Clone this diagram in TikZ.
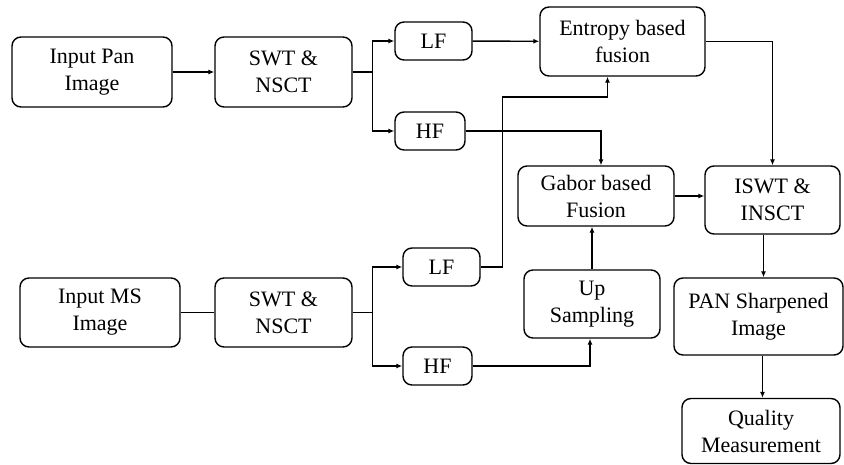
\documentclass[tikz,border=0pt]{standalone}
\usepackage{fontspec}
\setmainfont{Liberation Serif}
\newfontfamily\boxfont{Liberation Serif}
\usetikzlibrary{arrows.meta, positioning, calc}

\begin{document}
\begin{tikzpicture}[
        x=1pt, y=-1pt,
        line width=1.4pt,
        box/.style={rectangle, draw=black, rounded corners=9pt, align=center, inner sep=1pt, font=\boxfont\fontsize{22}{27}\selectfont},
        arr/.style={-{Latex[length=6pt, width=5pt]}}
    ]
        \useasboundingbox (0,0) rectangle (844,465);

        % upper (pan) path
        \node[box, minimum width=160, minimum height=70] (pan) at (92,72) {Input Pan\\Image};
        \node[box, minimum width=137, minimum height=70] (swta) at (283.5,72) {SWT \&\\NSCT};
        \node[box, minimum width=77, minimum height=38] (lfa) at (433.5,41) {LF};
        \node[box, minimum width=70, minimum height=38] (hfa) at (430,131) {HF};
        \node[box, minimum width=165, minimum height=69] (entropy) at (622.5,41.5) {Entropy based\\fusion};
        \node[box, minimum width=156, minimum height=60] (gabor) at (596,196) {Gabor based\\Fusion};
        \node[box, minimum width=135, minimum height=68] (iswt) at (772.5,200) {ISWT \&\\INSCT};

        % lower (ms) path
        \node[box, minimum width=160, minimum height=69] (ms) at (100,312.5) {Input MS\\Image};
        \node[box, minimum width=137, minimum height=69] (swtb) at (283.5,312.5) {SWT \&\\NSCT};
        \node[box, minimum width=77, minimum height=38] (lfb) at (441.5,267) {LF};
        \node[box, minimum width=69, minimum height=38] (hfb) at (437.5,366) {HF};
        \node[box, minimum width=136, minimum height=68] (upsamp) at (592,304) {Up\\Sampling};

        % output
        \node[box, minimum width=169, minimum height=77] (sharp) at (758.5,316.5) {PAN Sharpened\\Image};
        \node[box, minimum width=158, minimum height=65] (quality) at (761,431) {Quality\\Measurement};

        \draw[arr] (pan) -- (swta);
        \draw[arr] (swta.east) -- ++(20,0) |- (lfa.west);
        \draw[arr] (swta.east) -- ++(20,0) |- (hfa.west);
        \draw[arr] (lfa) -- (entropy);
        \draw[arr] (entropy.east) -| (iswt.north);
        \draw[arr] (hfa.east) -| ([xshift=5pt]gabor.north);
        \draw[arr] (gabor.east) -- (gabor.east -| iswt.west);

        \draw (ms) -- (swtb);
        \draw[arr] (swtb.east) -- ++(20,0) |- (lfb.west);
        \draw[arr] (swtb.east) -- ++(20,0) |- (hfb.west);
        \draw[arr] (lfb.east) -| ++(22,-170) -| ([xshift=-15pt]entropy.south);
        \draw[arr] (hfb.east) -| ([xshift=-2pt]upsamp.south);
        \draw[arr] (upsamp.north) -- (upsamp.north |- gabor.south);

        \draw[arr] ([xshift=-9pt]iswt.south) -- ([xshift=-9pt]iswt.south |- sharp.north);
        \draw[arr] ([xshift=4pt]sharp.south) -- ([xshift=4pt]sharp.south |- quality.north);
    \end{tikzpicture}
\end{document}
